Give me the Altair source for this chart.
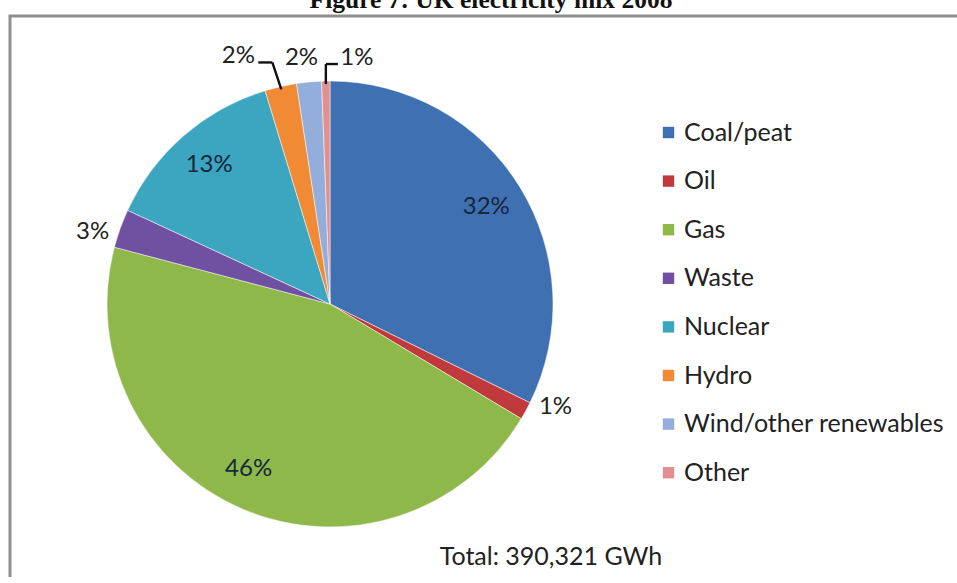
import altair as alt
import pandas as pd

# ---- data ----
categories = ["Coal/peat", "Oil", "Gas", "Waste", "Nuclear", "Hydro",
              "Wind/other renewables", "Other"]
shares = [32.3, 1.3, 45.5, 2.8, 13.4, 2.3, 1.8, 0.6]
labels = ["32%", "1%", "46%", "3%", "13%", "2%", "2%", "1%"]
colors = ["#3F70B2", "#C0393B", "#8FB84A", "#7050A0", "#3CA5C0", "#F08A34",
          "#93AEDB", "#E0908E"]
title_text = "Figure 7: UK electricity mix 2008"
total_text = "Total: 390,321 GWh"

df = pd.DataFrame({"category": categories, "share": shares, "label": labels,
                   "idx": list(range(len(categories)))})

CX, CY, R = 330, 304, 223
FONT = "Lato"

arcs = alt.Chart(df).mark_arc(outerRadius=R, stroke="white", strokeWidth=0.5).encode(
    theta=alt.Theta("share:Q", stack=True),
    order=alt.Order("idx:Q"),
    color=alt.Color("category:N",
                    scale=alt.Scale(domain=categories, range=colors),
                    sort=categories,
                    legend=alt.Legend(title=None, orient="none", legendX=656, legendY=120,
                                      symbolType="square", symbolSize=130,
                                      symbolStrokeWidth=0, labelFont=FONT,
                                      labelFontSize=25, labelColor="#222222",
                                      labelLimit=0, labelOffset=3, rowPadding=22.6)),
    x=alt.value(CX), y=alt.value(CY),
)

base = (alt.Chart(df)
        .transform_window(cum="sum(share)", sort=[alt.SortField("idx")], frame=[None, 0])
        .transform_joinaggregate(total="sum(share)")
        .transform_calculate(mid="(datum.cum - datum.share/2)/datum.total*2*PI"))

# small angular nudges (degrees) mimicking the spreadsheet's label placement
nudge = ("datum.category == 'Oil' ? -4 : datum.category == 'Gas' ? 3.4 : "
         "datum.category == 'Waste' ? -3 : datum.category == 'Wind/other renewables' ? -1.2 : 0")

plain = (base
         .transform_filter("datum.category != 'Hydro' && datum.category != 'Other'")
         .transform_calculate(rad="datum.share > 5 ? 184 : 248",
                              ang=f"datum.mid + ({nudge})*PI/180")
         .transform_calculate(lx=f"{CX} + datum.rad*sin(datum.ang)",
                              ly=f"{CY} - datum.rad*cos(datum.ang)"))

plain_text = plain.mark_text(font=FONT, fontSize=24, baseline="middle", align="center").encode(
    x=alt.X("lx:Q", scale=None), y=alt.Y("ly:Q", scale=None), text="label:N",
    color=alt.condition("datum.share > 5", alt.value("#16263d"), alt.value("#222222")),
)

lead = (base
        .transform_filter("datum.category == 'Hydro' || datum.category == 'Other'")
        .transform_calculate(
            x0=f"{CX} + 220*sin(datum.mid)", y0=f"{CY} - 220*cos(datum.mid)",
            ddx="datum.category == 'Hydro' ? -9 : 0",
            ddy="datum.category == 'Hydro' ? -27 : -20",
            hx="datum.category == 'Hydro' ? -14 : 12")
        .transform_calculate(x1="datum.x0 + datum.ddx", y1="datum.y0 + datum.ddy")
        .transform_calculate(x2="datum.x1 + datum.hx")
        .transform_calculate(tx="datum.x2 + (datum.hx < 0 ? -20 : 19)",
                             ty="datum.y1 - 6"))

lead1 = lead.mark_rule(color="#111111", strokeWidth=2.4).encode(
    x=alt.X("x0:Q", scale=None), y=alt.Y("y0:Q", scale=None),
    x2="x1:Q", y2="y1:Q")
lead2 = lead.mark_rule(color="#111111", strokeWidth=2.4).encode(
    x=alt.X("x1:Q", scale=None), y=alt.Y("y1:Q", scale=None),
    x2="x2:Q", y2="y1:Q")
lead_text = lead.mark_text(font=FONT, fontSize=24, baseline="middle", align="center",
                           color="#222222").encode(
    x=alt.X("tx:Q", scale=None), y=alt.Y("ty:Q", scale=None), text="label:N")

one = pd.DataFrame({"t": [total_text], "h": [title_text]})

frame = alt.Chart(one).mark_rect(fill="white", stroke="#8f8f8f", strokeWidth=3).encode(
    x=alt.value(10), y=alt.value(16), x2=alt.value(990), y2=alt.value(620))

total = alt.Chart(one).mark_text(font=FONT, fontSize=25, align="center", baseline="middle",
                                 color="#222222").encode(
    x=alt.value(551), y=alt.value(557), text="t:N")

title = alt.Chart(one).mark_text(font="Liberation Serif", fontSize=25.5, fontWeight="bold",
                                 align="center", baseline="alphabetic",
                                 color="#111111").encode(
    x=alt.value(491), y=alt.value(8), text="h:N")

chart = alt.layer(frame, arcs, plain_text, lead1, lead2, lead_text, total, title).properties(
    width=957, height=577, autosize=alt.AutoSizeParams(type="none"), padding=0,
    background="white",
).configure_view(stroke=None)

chart.save("out.html", embed_options={"renderer": "svg", "actions": False})
